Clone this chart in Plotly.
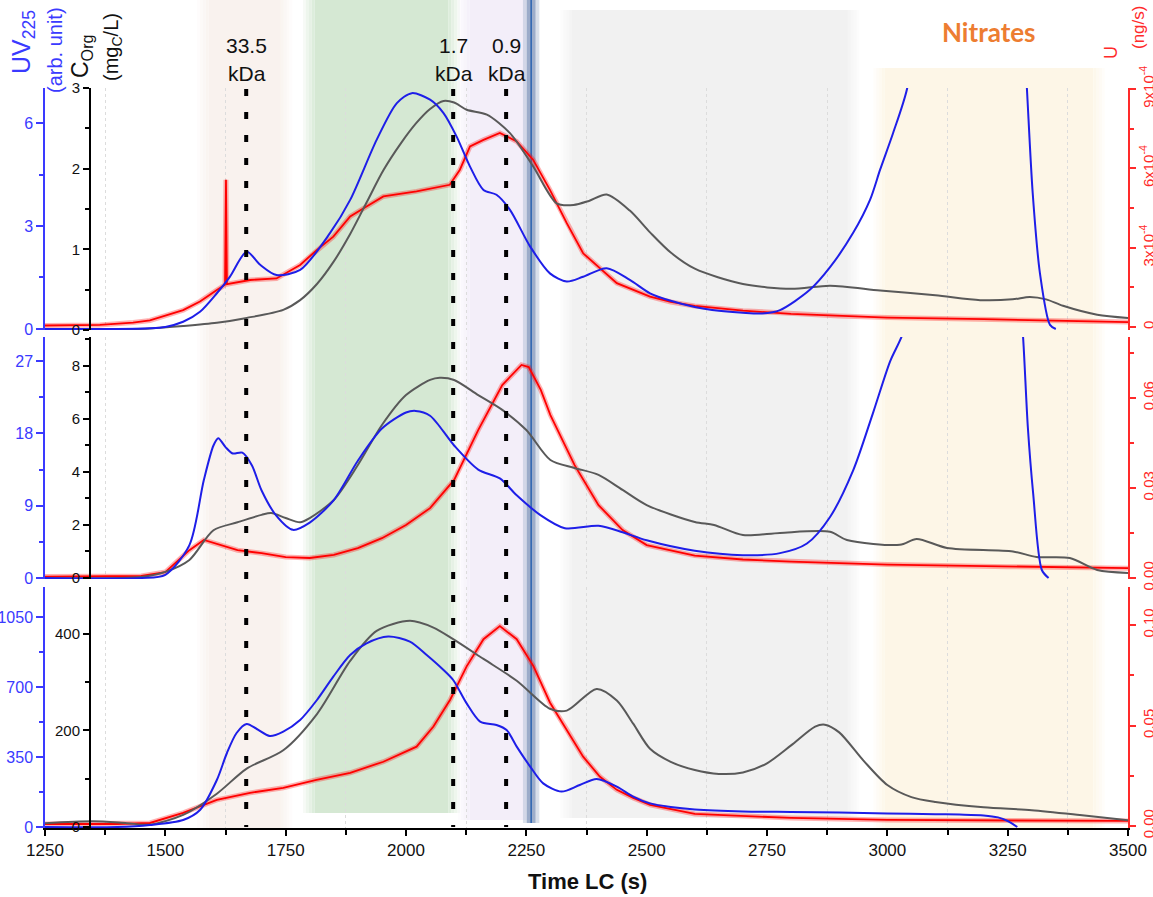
import plotly.graph_objects as go

# ================= DATA =================
# x = Time LC (s)
# ---- top panel ----
top_uv_t = [1250, 1400, 1468, 1500, 1537, 1572, 1607, 1634, 1669, 1697, 1731, 1780, 1842, 1884, 1939,
            1981, 2012, 2050, 2078, 2105, 2133, 2161, 2188, 2216, 2258, 2299, 2334, 2368, 2417, 2465,
            2507, 2550, 2600, 2650, 2700, 2740, 2777, 2839, 2881, 2929, 2964, 2985, 3012, 3041, 3060,
            3100, 3150, 3200, 3250, 3280, 3290, 3302, 3317, 3338, 3350]
top_uv = [0.0, 0.0, 0.02, 0.06, 0.21, 0.5, 1.04, 1.52, 2.25, 1.87, 1.57, 1.72, 2.79, 3.76, 5.51,
          6.58, 6.87, 6.68, 6.29, 5.61, 4.73, 4.05, 3.91, 3.47, 2.4, 1.62, 1.38, 1.52, 1.77, 1.43,
          1.04, 0.82, 0.64, 0.53, 0.47, 0.45, 0.55, 1.14, 1.8, 2.8, 3.76, 4.64, 5.71, 7.0, 9.0,
          14.0, 20.0, 22.0, 16.0, 9.5, 7.0, 3.96, 1.63, 0.12, 0.0]

top_c_t = [1250, 1400, 1468, 1537, 1607, 1669, 1745, 1780, 1815, 1850, 1884, 1918, 1953, 1990, 2022,
           2050, 2078, 2100, 2126, 2168, 2216, 2264, 2313, 2348, 2380, 2417, 2465, 2507, 2550, 2600,
           2700, 2800, 2881, 2985, 3100, 3193, 3260, 3296, 3330, 3365, 3436, 3500]
top_c = [0.0, 0.01, 0.02, 0.05, 0.09, 0.15, 0.25, 0.37, 0.57, 0.85, 1.19, 1.58, 1.98, 2.32, 2.57,
         2.74, 2.84, 2.82, 2.73, 2.67, 2.44, 2.03, 1.57, 1.55, 1.6, 1.68, 1.48, 1.21, 0.96, 0.76,
         0.57, 0.51, 0.55, 0.49, 0.43, 0.37, 0.38, 0.41, 0.38, 0.3, 0.19, 0.15]

# U, top panel, in units of 1e-4 ng/s
top_u_t = [1250, 1300, 1364, 1433, 1468, 1537, 1572, 1607, 1624, 1626, 1628, 1676, 1731, 1780, 1815,
           1849, 1884, 1918, 1953, 2022, 2091, 2112, 2133, 2161, 2195, 2230, 2264, 2299, 2334, 2368,
           2438, 2507, 2550, 2600, 2700, 2800, 2900, 3000, 3200, 3350, 3500]
top_u = [0.06, 0.06, 0.08, 0.17, 0.25, 0.64, 0.97, 1.4, 1.6, 5.57, 1.62, 1.78, 1.84, 2.35, 2.92,
         3.42, 4.18, 4.56, 4.94, 5.13, 5.38, 5.95, 6.83, 7.08, 7.34, 7.02, 6.33, 5.19, 3.93, 2.79,
         1.66, 1.15, 0.95, 0.8, 0.62, 0.5, 0.42, 0.36, 0.3, 0.25, 0.19]

# ---- middle panel ----
mid_uv_t = [1250, 1450, 1500, 1550, 1580, 1600, 1610, 1625, 1640, 1660, 1680, 1700, 1730, 1765, 1800,
            1850, 1900, 1950, 2000, 2020, 2050, 2100, 2150, 2195, 2230, 2280, 2330, 2400, 2450, 2500,
            2600, 2700, 2777, 2833, 2881, 2929, 2970, 3006, 3030, 3060, 3100, 3150, 3200, 3250, 3275,
            3282, 3292, 3303, 3321, 3335]
mid_uv = [0.0, 0.0, 0.4, 4.1, 12.2, 16.5, 17.4, 16.3, 15.5, 15.6, 14.0, 10.9, 7.8, 6.0, 6.9,
          9.7, 14.6, 18.6, 20.6, 20.8, 20.2, 16.5, 13.5, 12.4, 10.3, 7.8, 6.2, 6.5, 5.7, 4.7,
          3.4, 2.85, 3.1, 4.3, 7.6, 13.4, 20.5, 27.0, 30.1, 36.0, 45.0, 55.0, 55.0, 45.0, 35.0,
          30.0, 18.7, 10.5, 1.0, 0.0]

mid_c_t = [1250, 1450, 1500, 1550, 1600, 1650, 1700, 1720, 1750, 1780, 1800, 1850, 1900, 1950, 2000,
           2050, 2070, 2100, 2150, 2200, 2250, 2300, 2350, 2400, 2450, 2500, 2600, 2640, 2700, 2777,
           2881, 2916, 3026, 3061, 3124, 3261, 3310, 3379, 3436, 3500]
mid_c = [0.0, 0.04, 0.23, 0.68, 1.8, 2.1, 2.38, 2.45, 2.26, 2.1, 2.26, 2.94, 4.26, 5.77, 6.9,
         7.47, 7.55, 7.47, 6.9, 6.34, 5.58, 4.45, 4.15, 3.89, 3.32, 2.75, 2.11, 2.0, 1.62, 1.7,
         1.74, 1.43, 1.25, 1.47, 1.13, 1.0, 0.79, 0.75, 0.3, 0.19]

mid_u_t = [1250, 1450, 1500, 1550, 1580, 1600, 1650, 1700, 1750, 1800, 1850, 1900, 1950, 2000, 2050,
           2100, 2150, 2200, 2240, 2255, 2280, 2300, 2350, 2400, 2450, 2500, 2600, 2700, 2800, 3000,
           3250, 3500]
mid_u = [0.0005, 0.0007, 0.002, 0.0093, 0.0127, 0.0117, 0.0093, 0.0083, 0.007, 0.0067, 0.0077, 0.01,
         0.0133, 0.0177, 0.0233, 0.0327, 0.0493, 0.0643, 0.071, 0.0703, 0.0627, 0.0543, 0.0377,
         0.0243, 0.016, 0.011, 0.0075, 0.0062, 0.0055, 0.0045, 0.0038, 0.0033]

# ---- bottom panel ----
bot_uv_t = [1250, 1400, 1468, 1537, 1572, 1607, 1628, 1648, 1669, 1690, 1717, 1745, 1780, 1815, 1849,
            1884, 1918, 1963, 2008, 2043, 2078, 2098, 2126, 2154, 2188, 2209, 2230, 2258, 2285, 2323,
            2361, 2396, 2438, 2472, 2507, 2550, 2600, 2700, 2800, 2900, 3000, 3100, 3150, 3200, 3230,
            3250, 3270]
bot_uv = [0, 0, 10, 35, 85, 235, 370, 470, 515, 490, 455, 477, 535, 635, 752,
          860, 918, 952, 927, 860, 785, 735, 618, 527, 510, 485, 402, 302, 218, 177,
          210, 240, 202, 152, 118, 100, 88, 78, 75, 72, 68, 64, 62, 58, 48,
          30, 0]

bot_c_t = [1250, 1350, 1420, 1468, 1537, 1607, 1669, 1745, 1815, 1884, 1939, 2008, 2057, 2098, 2161,
           2230, 2299, 2334, 2396, 2438, 2472, 2507, 2550, 2600, 2650, 2700, 2750, 2800, 2850, 2870,
           2900, 2950, 3000, 3050, 3100, 3200, 3300, 3400, 3500]
bot_c = [8, 12, 8, 5, 25, 69, 121, 159, 234, 344, 406, 427, 413, 389, 348,
         303, 245, 241, 286, 262, 214, 162, 135, 118, 110, 113, 132, 169, 208, 212,
         196, 138, 87, 62, 52, 41, 35, 25, 14]

bot_u_t = [1250, 1400, 1468, 1537, 1607, 1676, 1745, 1814, 1884, 1953, 2022, 2057, 2092, 2126, 2161,
           2195, 2230, 2265, 2299, 2334, 2368, 2403, 2438, 2472, 2507, 2600, 2800, 3000, 3500]
bot_u = [0.001, 0.001, 0.0015, 0.0065, 0.013, 0.0165, 0.019, 0.023, 0.0265, 0.032, 0.0395, 0.0495,
         0.063, 0.0795, 0.093, 0.0995, 0.093, 0.0795, 0.0615, 0.048, 0.0345, 0.0245, 0.018, 0.014,
         0.0105, 0.006, 0.004, 0.003, 0.0025]

# marker lines (kDa) and shaded zones
kda_pos = [1668, 2098, 2208]
kda_lab = ["33.5", "1.7", "0.9"]
zones = [  # (start, end)
    (1590, 1740),   # pink
    (1810, 2088),   # green
    (2132, 2250),   # lavender
    (2345, 2918),   # grey
    (2995, 3428),   # nitrates (orange)
]
marker_line_t = 2260

# ================= LAYOUT HELPERS =================
W, H = 1153, 897
ML, MR, MT, MB = 45, 25, 88, 69
PW, PH = W - ML - MR, H - MT - MB


def pxx(x):
    return (x - ML) / PW


def pyy(y):
    return (MT + PH - y) / PH


dom_top = [pyy(330), 1.0]
dom_mid = [pyy(579), pyy(337)]
dom_bot = [0.0, pyy(587)]

BLUE = "#1e1ee8"
BLUE_AX = "#3a3aff"
RED = "#ff0000"
RED_AX = "#ff2a2a"
GREY = "#595959"
FONT = "Liberation Sans, Arial, sans-serif"

fig = go.Figure()


def add(t, v, yaxis, color, width, shape="spline"):
    fig.add_trace(go.Scatter(x=t, y=v, yaxis=yaxis, mode="lines",
                             line=dict(color=color, width=width, shape=shape,
                                       smoothing=0.8 if shape == "spline" else None),
                             hoverinfo="skip", showlegend=False))


def add_red(t, v, yaxis):
    fig.add_trace(go.Scatter(x=t, y=v, yaxis=yaxis, mode="lines",
                             line=dict(color="rgba(255,0,0,0.3)", width=5),
                             hoverinfo="skip", showlegend=False))
    add(t, v, yaxis, RED, 1.8, shape="linear")


# bottom: y (U), y2 (Corg), y3 (UV)
add_red(bot_u_t, bot_u, "y")
add(bot_c_t, bot_c, "y2", GREY, 2)
add(bot_uv_t, bot_uv, "y3", BLUE, 2)
# middle: y4, y5, y6
add_red(mid_u_t, mid_u, "y4")
add(mid_c_t, mid_c, "y5", GREY, 2)
add(mid_uv_t, mid_uv, "y6", BLUE, 2)
# top: y7, y8, y9
add_red(top_u_t, top_u, "y7")
add(top_c_t, top_c, "y8", GREY, 2)
add(top_uv_t, top_uv, "y9", BLUE, 2)


def red_ax(dom, rng, dtick, mdtick, fmt, tickvals=None, ticktext=None):
    d = dict(domain=dom, range=rng, side="right", anchor="x", showline=True, automargin=False,
             linecolor=RED_AX, linewidth=1.5, ticks="outside", ticklen=6, tickwidth=1.5,
             tickcolor=RED_AX, tickfont=dict(color=RED_AX, size=15, family=FONT),
             tickangle=-90, showgrid=False, zeroline=False,
             minor=dict(dtick=mdtick, tick0=0, ticks="outside", ticklen=4, tickcolor=RED_AX,
                        showgrid=False))
    if tickvals is not None:
        d.update(tickmode="array", tickvals=tickvals, ticktext=ticktext)
    else:
        d.update(dtick=dtick, tick0=0, tickformat=fmt)
    return d


def c_ax(rng, dtick, mdtick, overlay):
    return dict(range=rng, overlaying=overlay, anchor="free", position=pxx(90), side="left",
                automargin=False,
                showline=True, linecolor="black", linewidth=2, ticks="outside", ticklen=6,
                tickwidth=1.5, tickcolor="black", dtick=dtick, tick0=0,
                tickfont=dict(color="#111", size=15, family=FONT), showgrid=False, zeroline=False,
                minor=dict(dtick=mdtick, tick0=0, ticks="outside", ticklen=4, tickcolor="black",
                           showgrid=False))


def uv_ax(rng, dtick, mdtick, overlay):
    return dict(range=rng, overlaying=overlay, anchor="x", side="left", automargin=False,
                showline=True, linecolor=BLUE_AX, linewidth=1.5, ticks="outside", ticklen=7,
                tickwidth=1.5, tickcolor=BLUE_AX, dtick=dtick, tick0=0,
                tickfont=dict(color=BLUE_AX, size=16, family=FONT), showgrid=False,
                zeroline=False,
                minor=dict(dtick=mdtick, tick0=0, ticks="outside", ticklen=4, tickcolor=BLUE_AX,
                           showgrid=False))


layout = dict(
    width=W, height=H, margin=dict(l=ML, r=MR, t=MT, b=MB, autoexpand=False),
    paper_bgcolor="white", plot_bgcolor="rgba(0,0,0,0)", showlegend=False,
    font=dict(family=FONT),
    xaxis=dict(range=[1250, 3500], anchor="y", showline=True, linecolor="black", linewidth=2,
               automargin=False,
               ticks="outside", ticklen=6, tickwidth=1.5, tickcolor="black",
               tick0=1250, dtick=250, showgrid=False, zeroline=False,
               tickfont=dict(size=17, color="#111", family=FONT),
               minor=dict(dtick=125, tick0=1250, ticks="outside", ticklen=5, tickcolor="black",
                          showgrid=True, gridcolor="#dcdcdc", griddash="dot", gridwidth=1)),
    yaxis=red_ax(dom_bot, [-0.001, 0.119], 0.05, 0.025, ".2f"),
    yaxis2=c_ax([-2, 497], 200, 100, "y"),
    yaxis3=uv_ax([-5, 1200], 350, 175, "y"),
    yaxis4=red_ax(dom_mid, [-0.0003, 0.0803], 0.03, 0.015, ".2f"),
    yaxis5=c_ax([-0.04, 9.09], 2, 1, "y4"),
    yaxis6=uv_ax([-0.12, 30.0], 9, 4.5, "y4"),
    yaxis7=red_ax(dom_top, [-0.11, 9.04], None, 1.5, None,
                  tickvals=[0, 3, 6, 9],
                  ticktext=["0", "3x10<sup>-4</sup>", "6x10<sup>-4</sup>", "9x10<sup>-4</sup>"]),
    yaxis8=c_ax([0, 3.0], 1, 0.5, "y7"),
    yaxis9=uv_ax([-0.03, 7.02], 3, 1.5, "y7"),
)

# ---------- shapes ----------
shapes = []
zone_cols = [(249, 242, 238), (213, 232, 211), (243, 238, 249), (241, 241, 241), (253, 246, 231)]
zone_top = [0, 0, 0, 10, 68]
zone_bot = [829, 813, 820, 818, 830]
feather = 24  # seconds
for (a, b), col, yt, yb in zip(zones, zone_cols, zone_top, zone_bot):
    r, g, bl = col
    shapes.append(dict(type="rect", xref="x", yref="paper", x0=a, x1=b, y0=pyy(yb), y1=pyy(yt),
                       fillcolor=f"rgb({r},{g},{bl})", line=dict(width=0), layer="below"))
    n = 4
    for i in range(n):
        al = 1 - (i + 1) / (n + 1)
        w = feather / n
        for x0, x1 in ((a - (i + 1) * w, a - i * w), (b + i * w, b + (i + 1) * w)):
            shapes.append(dict(type="rect", xref="x", yref="paper", x0=x0, x1=x1,
                               y0=pyy(yb), y1=pyy(yt), fillcolor=f"rgba({r},{g},{bl},{al:.2f})",
                               line=dict(width=0), layer="below"))

# blue marker line with halo
shapes.append(dict(type="rect", xref="x", yref="paper", x0=marker_line_t - 17, x1=marker_line_t + 17,
                   y0=pyy(823), y1=pyy(0), fillcolor="rgba(150,168,198,0.35)", line=dict(width=0),
                   layer="below"))
shapes.append(dict(type="rect", xref="x", yref="paper", x0=marker_line_t - 9, x1=marker_line_t + 9,
                   y0=pyy(823), y1=pyy(0), fillcolor="rgba(110,135,175,0.55)", line=dict(width=0),
                   layer="below"))
shapes.append(dict(type="line", xref="x", yref="paper", x0=marker_line_t, x1=marker_line_t,
                   y0=pyy(823), y1=pyy(0), line=dict(color="#2a62b0", width=1.5), layer="below"))

# kDa dotted lines
for xk in kda_pos:
    shapes.append(dict(type="line", xref="x", yref="paper", x0=xk, x1=xk, y0=pyy(89), y1=pyy(827),
                       line=dict(color="black", width=4, dash="7px,16px"), layer="above"))

layout["shapes"] = shapes

# ---------- annotations ----------
ann = []
for xk, lab in zip(kda_pos, kda_lab):
    ann.append(dict(x=xk, y=pyy(46), xref="x", yref="paper", text=lab, showarrow=False,
                    font=dict(size=21, color="#111", family=FONT), xanchor="center", yanchor="middle"))
    ann.append(dict(x=xk + 2, y=pyy(74), xref="x", yref="paper", text="kDa", showarrow=False,
                    font=dict(size=21, color="#111", family=FONT), xanchor="center", yanchor="middle"))


def vtext(text, x, y, size, color):
    ann.append(dict(x=pxx(x), y=pyy(y), xref="paper", yref="paper", text=text, showarrow=False,
                    textangle=-90, font=dict(size=size, color=color, family=FONT),
                    xanchor="center", yanchor="middle"))


vtext("UV<sub>225</sub>", 23, 42, 25, BLUE_AX)
vtext("(arb. unit)", 55, 50, 20, BLUE_AX)
vtext("C<sub>Org</sub>", 81, 57, 23, "#111")
vtext("(mg<sub>C</sub>/L)", 112, 47, 20, "#111")
vtext("U", 1111, 53, 18, RED_AX)
vtext("(ng/s)", 1139, 28, 17, RED_AX)

ann.append(dict(x=pxx(989), y=pyy(32), xref="paper", yref="paper", text="<b>Nitrates</b>",
                showarrow=False, font=dict(size=26, color="#ed7d31", family="Lato, Open Sans, sans-serif"),
                xanchor="center", yanchor="middle"))
ann.append(dict(x=pxx(587), y=pyy(882), xref="paper", yref="paper", text="<b>Time LC (s)</b>",
                showarrow=False, font=dict(size=22, color="#111", family=FONT),
                xanchor="center", yanchor="middle"))
layout["annotations"] = ann

fig.update_layout(**layout)
fig.write_html("out.html")
